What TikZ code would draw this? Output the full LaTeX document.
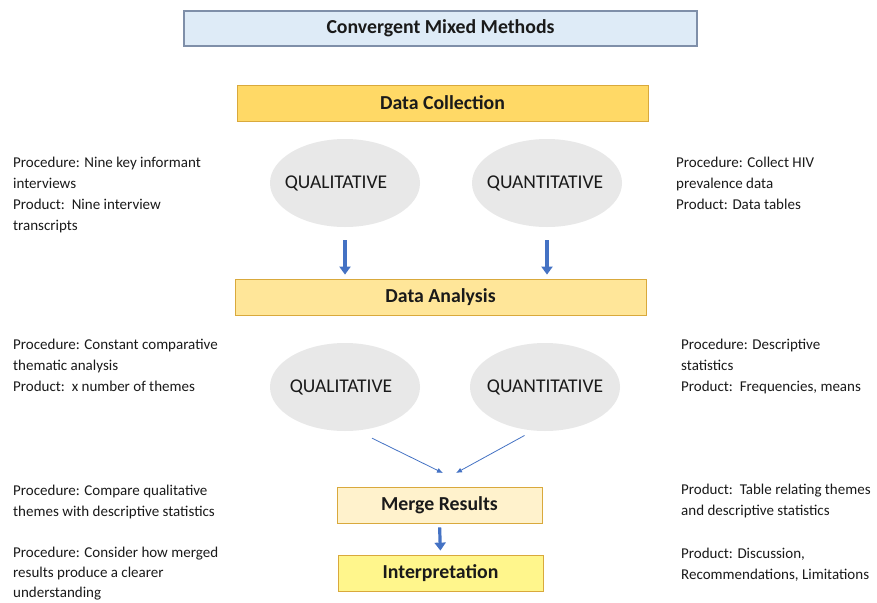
\documentclass[tikz,border=0pt]{standalone}
\usepackage{fontspec}
\setmainfont{Carlito}
\usetikzlibrary{arrows.meta,positioning,calc,shapes.geometric}
\definecolor{ink}{HTML}{1A1A1A}
\definecolor{skyfill}{HTML}{DEEBF7}
\definecolor{skyline}{HTML}{7F8FA9}
\definecolor{gold}{HTML}{FFD966}
\definecolor{goldlight}{HTML}{FFE699}
\definecolor{cream}{HTML}{FFF2CC}
\definecolor{lemon}{HTML}{FFF68C}
\definecolor{goldline}{HTML}{D9A93C}
\definecolor{ovalgray}{HTML}{E8E8E8}
\definecolor{flow}{HTML}{4472C4}
\tikzset{
  banner/.style={draw=skyline, fill=skyfill, line width=1.2pt, inner sep=0pt,
                 minimum width=513pt, minimum height=35pt,
                 font=\fontsize{19.8}{22}\selectfont\bfseries, text=ink},
  stage/.style={draw=goldline, line width=0.8pt, inner sep=0pt, minimum height=36pt,
                font=\fontsize{19.8}{22}\selectfont\bfseries, text=ink},
  strand/.style={ellipse, fill=ovalgray, minimum width=150pt, minimum height=88pt,
                 inner sep=0pt},
  strandtext/.style={font=\fontsize{19.5}{22}\selectfont, text=ink},
  note/.style={anchor=north west, align=left, inner sep=0pt, text=ink,
               font=\fontsize{15}{21}\selectfont},
  bigflow/.style={-{Triangle[length=8pt,width=11pt]}, line width=3.2pt, draw=flow},
  feed/.style={-{Latex[length=6pt,width=5pt]}, line width=0.8pt, draw=flow}
}
\begin{document}
\begin{tikzpicture}[x=1pt,y=-1pt]
  \path[use as bounding box, fill=white] (0,0) rectangle (877,602);

  % title and stages
  \node[banner] (title) at (440.5,28.5) {Convergent Mixed Methods};
  \node[stage, fill=gold, minimum width=411pt] (collect) at (442.5,103) {Data Collection};
  \node[stage, fill=goldlight, minimum width=411pt] (analysis) at (440.5,297) {Data Analysis};
  \node[stage, fill=cream, minimum width=205pt] (merge) at (439.5,505) {Merge Results};
  \node[stage, fill=lemon, minimum width=205pt] (interp) at (440.5,573) {Interpretation};

  % collection strands
  \node[strand, label={[strandtext, xshift=-9pt]center:QUALITATIVE}] (qualA) at (345,183) {};
  \node[strand, label={[strandtext, xshift=-2pt]center:QUANTITATIVE}] (quantA) at (547,183) {};

  % analysis strands
  \node[strand, label={[strandtext, xshift=-4pt]center:QUALITATIVE}] (qualB) at (345,387) {};
  \node[strand, label={[strandtext]center:QUANTITATIVE}] (quantB) at (545,387) {};

  % connectors
  \draw[bigflow, shorten <=13pt, shorten >=4pt] (qualA.south) -- (qualA.south |- analysis.north);
  \draw[bigflow, shorten <=13pt, shorten >=4pt] (quantA.south) -- (quantA.south |- analysis.north);
  \coordinate (mergeL) at (443,473);
  \coordinate (mergeR) at (456,473);
  \draw[feed, shorten <=17pt] (qualB.285) -- (mergeL);
  \draw[feed, shorten <=10pt] (quantB.255) -- (mergeR);
  \draw[bigflow, shorten <=4pt, shorten >=4pt] (merge.south) -- (interp.north);

  % side notes
  \node[note] (qualcollect) at (13,156.5) {Procedure: Nine key informant\\interviews\\Product:\ \ Nine interview\\transcripts};
  \node[note] (quantcollect) at (676,156.5) {Procedure: Collect HIV\\prevalence data\\Product: Data tables};
  \node[note] (qualanalysis) at (13,338.5) {Procedure: Constant comparative\\thematic analysis\\Product:\ \ x number of themes};
  \node[note] (quantanalysis) at (681,338.5) {Procedure: Descriptive\\statistics\\Product:\ \ Frequencies, means};
  \node[note] (mergeproc) at (13,484.5) {Procedure: Compare qualitative\\themes with descriptive statistics};
  \node[note] (mergeprod) at (681,483.5) {Product:\ \ Table relating themes\\and descriptive statistics};
  \node[note, font=\fontsize{15}{20}\selectfont] (interpproc) at (13,547) {Procedure: Consider how merged\\results produce a clearer\\understanding};
  \node[note] (interpprod) at (681,547.5) {Product: Discussion,\\Recommendations, Limitations};
\end{tikzpicture}
\end{document}
